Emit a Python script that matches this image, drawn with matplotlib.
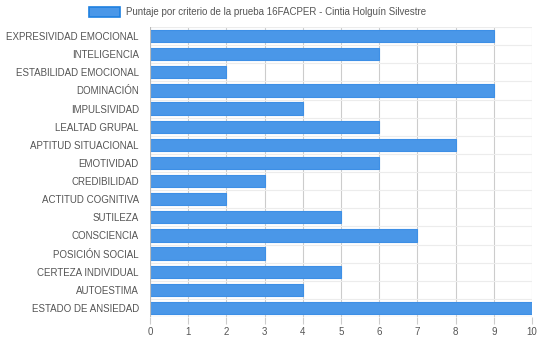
import matplotlib
matplotlib.use("Agg")
import matplotlib.pyplot as plt
from matplotlib.patches import Rectangle
from matplotlib.ticker import MultipleLocator

categories = ["EXPRESIVIDAD EMOCIONAL", "INTELIGENCIA", "ESTABILIDAD EMOCIONAL",
              "DOMINACIÓN", "IMPULSIVIDAD", "LEALTAD GRUPAL", "APTITUD SITUACIONAL",
              "EMOTIVIDAD", "CREDIBILIDAD", "ACTITUD COGNITIVA", "SUTILEZA",
              "CONSCIENCIA", "POSICIÓN SOCIAL", "CERTEZA INDIVIDUAL", "AUTOESTIMA",
              "ESTADO DE ANSIEDAD"]
values = [9, 6, 2, 9, 4, 6, 8, 6, 3, 2, 5, 7, 3, 5, 4, 10]
legend_label = "Puntaje por criterio de la prueba 16FACPER - Cintia Holguín Silvestre"

plt.rcParams['font.family'] = ['Liberation Sans', 'DejaVu Sans']
fig = plt.figure(figsize=(5.4, 3.41), dpi=100)
ax = fig.add_axes([150/540, 1-317/341, (532-150)/540, (317-27)/341])

n = len(categories)
ypos = list(range(n))
ax.barh(ypos, values, height=0.68, color='#4a97e8', edgecolor='#3d8fe6', linewidth=0.8, zorder=3)
ax.set_ylim(n-0.5, -0.5)
ax.set_xlim(0, 10)
ax.xaxis.set_major_locator(MultipleLocator(1))
ax.set_yticks(ypos)
ax.set_yticklabels(categories)
ax.tick_params(axis='y', length=0, pad=8, labelsize=7.0, labelcolor='#555555')
ax.tick_params(axis='x', length=5, color='#cccccc', pad=2, labelsize=7.0, labelcolor='#555555')
for v in range(0, 11):
    ax.axvline(v, color='#cccccc', lw=0.8, zorder=1)
for k in range(n+1):
    ax.axhline(k-0.5, color='#ececec', lw=0.8, zorder=1)
for s in ax.spines.values():
    s.set_visible(False)
ax.axvline(0, color='#bbbbbb', lw=0.8, zorder=4)
ax.axhline(n-0.5, color='#bbbbbb', lw=0.8, zorder=4)

fig.patches.append(Rectangle((89/540, 1-17/341), 31/540, 10/341, transform=fig.transFigure,
                             facecolor='#4a97e8', edgecolor='#1e80e0', linewidth=1.2))
fig.text(126/540, 1-12/341, legend_label, fontsize=7.0, color='#555555', va='center', ha='left')

fig.savefig("out.png", dpi=100)
